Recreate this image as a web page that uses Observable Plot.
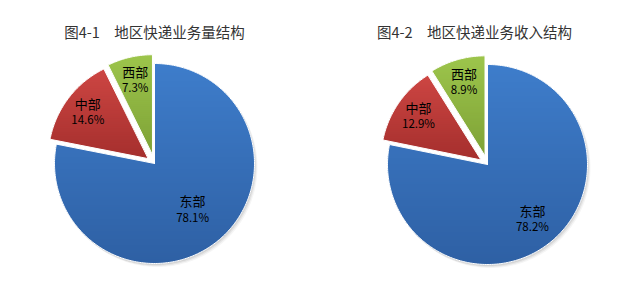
<!DOCTYPE html>
<html>
<head>
<meta charset="utf-8">
<script src="https://cdn.jsdelivr.net/npm/d3@7"></script>
<script src="https://cdn.jsdelivr.net/npm/@observablehq/plot@0.6"></script>
<style>
  html, body { margin: 0; padding: 0; background: #fff; }
</style>
</head>
<body>
<div id="chart"></div>
<script>
// ---- data ----
const regions = ["东部", "中部", "西部"];
const volumeShare = [78.1, 14.6, 7.3];   // 图4-1 业务量结构 (%)
const revenueShare = [78.2, 12.9, 8.9];  // 图4-2 业务收入结构 (%)
const titles = ["图4-1\u3000地区快递业务量结构", "图4-2\u3000地区快递业务收入结构"];

// ---- layout / style ----
const W = 640, H = 281;
const pies = [
  { values: volumeShare, title: titles[0], cx: 154, cy: 163, tx: 154, ty: 33, eastLabel: 0.6 },
  { values: revenueShare, title: titles[1], cx: 487, cy: 164, tx: 474, ty: 33, eastLabel: 0.71 }
];
const R = 100;
const explode = [0, 8, 9];
const gradients = [["#3e7dcb", "#2e60a4"], ["#cd4643", "#a52f2d"], ["#9dc54c", "#7ea236"]];

// clip polygon to horizontal band ya <= y <= yb (Sutherland–Hodgman)
function clipHalf(poly, inside, cross) {
  const out = [];
  for (let i = 0; i < poly.length; i++) {
    const a = poly[i], b = poly[(i + 1) % poly.length];
    const ia = inside(a), ib = inside(b);
    if (ia) out.push(a);
    if (ia !== ib) out.push(cross(a, b));
  }
  return out;
}
function clipBand(poly, ya, yb) {
  const at = (yy) => (a, b) => { const t = (yy - a[1]) / (b[1] - a[1]); return [a[0] + t * (b[0] - a[0]), yy]; };
  let p = clipHalf(poly, d => d[1] >= ya, at(ya));
  if (p.length) p = clipHalf(p, d => d[1] <= yb, at(yb));
  return p;
}

const bandPts = [];
const outlinePts = [];
const labels = [];
const titleRows = [];
pies.forEach((p, pi) => {
  const total = d3.sum(p.values);
  let acc = 0;
  p.values.forEach((v, i) => {
    const a0 = acc / total * 2 * Math.PI;
    acc += v;
    const a1 = acc / total * 2 * Math.PI;
    const mid = (a0 + a1) / 2;
    const ox = p.cx + explode[i] * Math.sin(mid);
    const oy = p.cy - explode[i] * Math.cos(mid);
    const key = pi + "-" + i;
    const poly = [[ox, oy]];
    const n = Math.max(2, Math.ceil((a1 - a0) / (Math.PI / 180)));
    for (let k = 0; k <= n; k++) {
      const a = a0 + (a1 - a0) * k / n;
      poly.push([ox + R * Math.sin(a), oy - R * Math.cos(a)]);
    }
    for (const q of poly) outlinePts.push({ key, slice: i, x: q[0], y: q[1] });
    outlinePts.push({ key, slice: i, x: ox, y: oy });
    // vertical gradient emulated by thin bands
    const [y0, y1] = d3.extent(poly, d => d[1]);
    const interp = d3.interpolateRgb(gradients[i][0], gradients[i][1]);
    const step = 2;
    for (let yb = y0, b = 0; yb < y1; yb += step, b++) {
      const part = clipBand(poly, yb - 0.4, Math.min(y1, yb + step + 0.4));
      if (part.length < 3) continue;
      const color = interp(Math.min(1, (yb + step / 2 - y0) / (y1 - y0)));
      for (const q of part) bandPts.push({ key: key + "-" + b, x: q[0], y: q[1], color });
    }
    const lr = i === 0 ? p.eastLabel : 0.76;
    labels.push({
      x: ox + R * lr * Math.sin(mid),
      y: oy - R * lr * Math.cos(mid),
      name: regions[i],
      pct: v.toFixed(1) + "%"
    });
  });
  titleRows.push({ x: p.tx, y: p.ty, text: p.title });
});

const eastOutline = outlinePts.filter(d => d.slice === 0);
const shadow = (dx, dy, op) =>
  Plot.line(eastOutline, { x: "x", y: "y", z: "key", fill: "#000", fillOpacity: op, stroke: null, curve: "linear", dx, dy });

const chart = Plot.plot({
  width: W,
  height: H,
  margin: 0,
  x: { domain: [0, W], range: [0, W], axis: null },
  y: { domain: [0, H], range: [0, H], axis: null },
  color: { type: "identity" },
  style: { fontFamily: "'Noto Sans CJK SC', sans-serif", background: "#fff" },
  marks: [
    shadow(3, 3.5, 0.04),
    shadow(2, 2.5, 0.06),
    shadow(1, 1.5, 0.08),
    Plot.line(bandPts, { x: "x", y: "y", z: "key", fill: "color", stroke: null, curve: "linear" }),
    Plot.line(outlinePts, { x: "x", y: "y", z: "key", stroke: "#fff", strokeWidth: 1, strokeLinejoin: "miter", curve: "linear" }),
    Plot.text(labels, { x: "x", y: "y", text: "name", dy: -8, fontSize: 13, fill: "#000" }),
    Plot.text(labels, { x: "x", y: "y", text: "pct", dy: 8, fontSize: 11.5, fill: "#000" }),
    Plot.text(titleRows, { x: "x", y: "y", text: "text", fontSize: 14.5, fill: "#333" })
  ]
});
document.getElementById("chart").appendChild(chart);
</script>
</body>
</html>
